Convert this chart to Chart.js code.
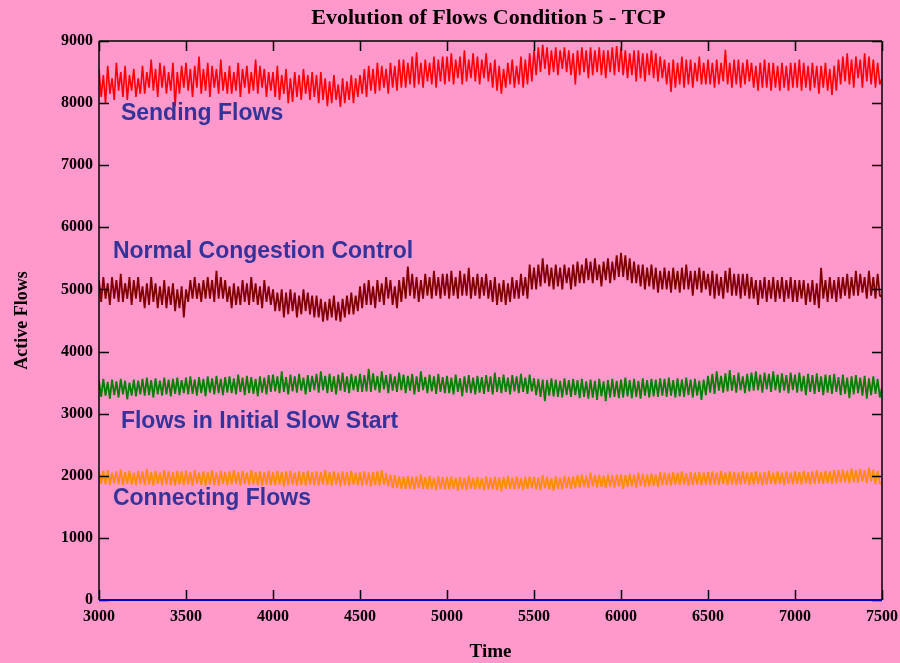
<!DOCTYPE html>
<html>
<head>
<meta charset="utf-8">
<script src="https://cdn.jsdelivr.net/npm/chart.js@4"></script>
<style>
  html, body { margin: 0; padding: 0; background: #FF99CC; }
  #wrap { width: 900px; height: 663px; }
</style>
</head>
<body>
<div id="wrap"><canvas id="c" width="900" height="663"></canvas></div>
<script>
// ---- data (sampled every 12.5 time units, 3000..7500) ----
const timeStart = 3000;
const timeStep = 12.5;
const xTickValues = [3000, 3500, 4000, 4500, 5000, 5500, 6000, 6500, 7000, 7500];
const yTickValues = [0, 1000, 2000, 3000, 4000, 5000, 6000, 7000, 8000, 9000];

const sendingFlows = [
  8550, 8100, 8450, 8000, 8600, 8150, 8400, 8050, 8650, 8200, 8500, 8100, 8600, 8050, 8450, 8200, 8550, 8100, 8400, 8150,
  8600, 8150, 8500, 8250, 8700, 8200, 8550, 8100, 8650, 8250, 8600, 8150, 8500, 8200, 8650, 7950, 8500, 8150, 8600, 8250,
  8650, 8200, 8550, 8100, 8600, 8250, 8750, 8150, 8550, 8200, 8650, 8100, 8600, 8250, 8550, 8150, 8700, 8200, 8500, 8150,
  8600, 8150, 8500, 8200, 8650, 8100, 8550, 8250, 8600, 8150, 8500, 8200, 8700, 8150, 8600, 8250, 8550, 8100, 8500, 8200,
  8500, 8100, 8600, 8050, 8450, 8150, 8550, 8000, 8400, 8020, 8500, 8100, 8450, 8050, 8550, 8150, 8450, 8050, 8500, 8100,
  8450, 8000, 8500, 8050, 8400, 7950, 8350, 8000, 8450, 8050, 8300, 7940, 8400, 8000, 8350, 8050, 8450, 8000, 8400, 8100,
  8450, 8150, 8550, 8100, 8600, 8200, 8550, 8150, 8650, 8200, 8600, 8250, 8550, 8150, 8650, 8250, 8600, 8200, 8700, 8250,
  8700, 8250, 8650, 8300, 8750, 8250, 8820, 8300, 8650, 8250, 8700, 8350, 8650, 8300, 8750, 8250, 8700, 8350, 8750, 8300,
  8750, 8350, 8800, 8300, 8700, 8400, 8750, 8300, 8850, 8350, 8700, 8400, 8800, 8350, 8750, 8300, 8700, 8400, 8800, 8350,
  8650, 8250, 8700, 8200, 8600, 8150, 8550, 8250, 8650, 8300, 8700, 8250, 8600, 8300, 8750, 8250, 8700, 8300, 8800, 8350,
  8850, 8450, 8900, 8500, 8940, 8550, 8900, 8450, 8850, 8500, 8900, 8450, 8850, 8550, 8900, 8500, 8850, 8450, 8800, 8300,
  8850, 8450, 8900, 8500, 8850, 8400, 8900, 8450, 8850, 8500, 8900, 8450, 8850, 8400, 8850, 8500, 8900, 8450, 8920, 8500,
  8900, 8450, 8850, 8400, 8800, 8450, 8850, 8350, 8850, 8400, 8800, 8350, 8800, 8450, 8850, 8400, 8800, 8350, 8750, 8400,
  8700, 8300, 8650, 8180, 8700, 8250, 8650, 8300, 8750, 8250, 8700, 8300, 8700, 8250, 8650, 8350, 8750, 8300, 8650, 8300,
  8700, 8300, 8650, 8250, 8700, 8300, 8650, 8350, 8860, 8300, 8650, 8250, 8700, 8300, 8700, 8250, 8650, 8300, 8700, 8350,
  8650, 8250, 8600, 8200, 8650, 8250, 8700, 8250, 8650, 8200, 8650, 8250, 8600, 8200, 8650, 8250, 8600, 8200, 8650, 8250,
  8650, 8250, 8700, 8200, 8650, 8250, 8600, 8200, 8650, 8250, 8600, 8150, 8600, 8250, 8650, 8200, 8550, 8130, 8600, 8200,
  8700, 8300, 8750, 8350, 8800, 8300, 8700, 8250, 8750, 8400, 8700, 8250, 8800, 8350, 8750, 8300, 8700, 8250, 8650, 8300, 8400
];

const normalCongestion = [
  5150, 4800, 5200, 4850, 5100, 4750, 5200, 4850, 5150, 4800, 5250, 4800, 5100, 4850, 5200, 4750, 5150, 4850, 5200, 4800,
  5050, 4700, 5100, 4750, 5200, 4800, 5100, 4700, 5050, 4750, 5150, 4700, 5050, 4750, 5100, 4650, 5000, 4700, 5050, 4550,
  5000, 4800, 5150, 4850, 5200, 4850, 5100, 4800, 5150, 4850, 5200, 4850, 5150, 4800, 5300, 4850, 5200, 4850, 5150, 4800,
  5050, 4700, 5100, 4750, 5050, 4750, 5150, 4800, 5100, 4750, 5200, 4800, 5100, 4750, 5050, 4700, 5150, 4800, 5050, 4750,
  5000, 4650, 4950, 4650, 5000, 4550, 4950, 4600, 5000, 4650, 4950, 4550, 4900, 4600, 5000, 4650, 4950, 4600, 4900, 4550,
  4900, 4550, 4850, 4480, 4800, 4500, 4850, 4550, 4900, 4500, 4800, 4480, 4850, 4550, 4900, 4600, 4950, 4600, 4900, 4650,
  5050, 4700, 5100, 4750, 5150, 4750, 5050, 4700, 5150, 4800, 5100, 4750, 5200, 4850, 5150, 4750, 5050, 4700, 5150, 4800,
  5200, 4850, 5370, 4900, 5250, 4850, 5200, 4800, 5150, 4850, 5250, 4900, 5200, 4850, 5300, 4900, 5200, 4850, 5250, 4900,
  5250, 4850, 5300, 4900, 5200, 4850, 5300, 4900, 5250, 4900, 5350, 4850, 5200, 4900, 5250, 4850, 5200, 4900, 5250, 4850,
  5150, 4800, 5200, 4750, 5100, 4800, 5150, 4750, 5100, 4800, 5200, 4850, 5150, 4850, 5250, 4900, 5200, 4850, 5400, 5000,
  5350, 5000, 5400, 5050, 5500, 5100, 5400, 5050, 5350, 5000, 5400, 5050, 5350, 5000, 5400, 5100, 5350, 5000, 5400, 5050,
  5450, 5100, 5400, 5100, 5500, 5150, 5450, 5100, 5500, 5150, 5400, 5050, 5450, 5150, 5500, 5100, 5450, 5150, 5550, 5200,
  5590, 5200, 5550, 5150, 5500, 5100, 5450, 5100, 5400, 5050, 5400, 5000, 5350, 5050, 5400, 5000, 5350, 4950, 5300, 5000,
  5350, 5000, 5300, 4950, 5350, 5000, 5300, 4950, 5350, 5000, 5400, 5000, 5300, 4900, 5300, 5000, 5350, 4950, 5300, 5000,
  5250, 4900, 5300, 4850, 5250, 4900, 5200, 4850, 5300, 4950, 5350, 4900, 5250, 4900, 5250, 4850, 5250, 4900, 5250, 4850,
  5200, 4850, 5150, 4750, 5150, 4850, 5200, 4800, 5150, 4850, 5200, 4800, 5150, 4850, 5200, 4800, 5150, 4850, 5200, 4800,
  5150, 4800, 5150, 4850, 5150, 4750, 5100, 4800, 5150, 4750, 5100, 4700, 5350, 4850, 5150, 4800, 5200, 4850, 5150, 4800,
  5200, 4850, 5200, 4900, 5250, 4850, 5200, 4900, 5300, 4900, 5250, 4950, 5200, 4850, 5300, 4900, 5200, 4850, 5250, 4900, 4880
];

const initialSlowStart = [
  3530, 3270, 3560, 3290, 3510, 3240, 3550, 3300, 3520, 3260, 3560, 3310, 3530, 3230, 3500, 3290, 3550, 3280, 3530, 3310,
  3560, 3290, 3580, 3300, 3540, 3260, 3570, 3310, 3530, 3290, 3580, 3310, 3550, 3280, 3560, 3320, 3580, 3300, 3540, 3330,
  3580, 3310, 3600, 3320, 3550, 3290, 3590, 3330, 3560, 3280, 3600, 3340, 3570, 3310, 3610, 3330, 3560, 3300, 3590, 3340,
  3600, 3330, 3570, 3310, 3630, 3350, 3580, 3300, 3610, 3330, 3590, 3320, 3560, 3280, 3600, 3340, 3580, 3310, 3620, 3350,
  3630, 3360, 3600, 3330, 3680, 3350, 3590, 3310, 3630, 3360, 3600, 3340, 3640, 3370, 3580, 3310, 3620, 3350, 3610, 3380,
  3640, 3340, 3680, 3380, 3610, 3330, 3640, 3350, 3600, 3310, 3630, 3370, 3660, 3350, 3600, 3330, 3640, 3380, 3610, 3350,
  3640, 3350, 3620, 3360, 3720, 3350, 3650, 3380, 3610, 3340, 3680, 3390, 3620, 3330, 3640, 3370, 3600, 3350, 3660, 3380,
  3630, 3330, 3610, 3370, 3640, 3310, 3600, 3350, 3680, 3380, 3590, 3330, 3630, 3360, 3600, 3320, 3640, 3350, 3590, 3330,
  3610, 3330, 3580, 3310, 3630, 3350, 3570, 3280, 3600, 3340, 3620, 3330, 3580, 3310, 3610, 3340, 3590, 3320, 3620, 3350,
  3600, 3310, 3660, 3350, 3590, 3330, 3630, 3350, 3580, 3310, 3620, 3360, 3600, 3330, 3640, 3350, 3580, 3320, 3630, 3360,
  3570, 3300, 3560, 3270, 3550, 3200, 3540, 3290, 3570, 3280, 3550, 3270, 3530, 3260, 3570, 3300, 3540, 3270, 3560, 3300,
  3540, 3250, 3560, 3270, 3520, 3240, 3550, 3260, 3530, 3220, 3560, 3280, 3520, 3200, 3540, 3260, 3560, 3270, 3530, 3250,
  3550, 3260, 3580, 3280, 3540, 3250, 3560, 3270, 3530, 3240, 3570, 3290, 3540, 3260, 3560, 3280, 3550, 3270, 3570, 3290,
  3560, 3270, 3580, 3290, 3540, 3260, 3570, 3280, 3550, 3270, 3580, 3300, 3550, 3260, 3560, 3290, 3530, 3220, 3550, 3300,
  3610, 3340, 3640, 3320, 3680, 3370, 3610, 3340, 3650, 3360, 3700, 3370, 3620, 3340, 3660, 3380, 3600, 3330, 3640, 3360,
  3660, 3370, 3680, 3380, 3630, 3340, 3660, 3390, 3640, 3350, 3680, 3380, 3630, 3340, 3650, 3370, 3620, 3330, 3660, 3380,
  3630, 3340, 3660, 3360, 3610, 3300, 3640, 3350, 3620, 3320, 3650, 3350, 3600, 3300, 3630, 3340, 3620, 3320, 3640, 3350,
  3590, 3300, 3630, 3320, 3580, 3250, 3600, 3310, 3620, 3330, 3580, 3290, 3610, 3240, 3570, 3300, 3600, 3320, 3560, 3260, 3420
];

const connectingFlows = [
  2060, 1870, 2080, 1860, 2090, 1850, 2050, 1880, 2070, 1860, 2100, 1850, 2060, 1870, 2080, 1860, 2050, 1850, 2080, 1870,
  2070, 1850, 2110, 1860, 2060, 1840, 2080, 1870, 2050, 1850, 2090, 1860, 2070, 1850, 2060, 1840, 2080, 1860, 2070, 1850,
  2080, 1860, 2060, 1840, 2090, 1870, 2050, 1850, 2070, 1840, 2060, 1860, 2090, 1850, 2050, 1840, 2080, 1870, 2060, 1850,
  2070, 1860, 2090, 1870, 2060, 1840, 2080, 1870, 2050, 1850, 2090, 1860, 2060, 1850, 2070, 1840, 2060, 1860, 2080, 1850,
  2060, 1850, 2080, 1860, 2060, 1830, 2070, 1850, 2080, 1860, 2050, 1840, 2070, 1850, 2060, 1840, 2080, 1860, 2060, 1850,
  2070, 1840, 2060, 1860, 2090, 1850, 2060, 1840, 2070, 1860, 2050, 1830, 2070, 1850, 2060, 1840, 2080, 1860, 2050, 1850,
  2060, 1840, 2070, 1850, 2050, 1830, 2060, 1850, 2070, 1840, 2090, 1860, 2040, 1830, 2020, 1800, 2010, 1800, 1990, 1790,
  1990, 1790, 2000, 1790, 1980, 1780, 1990, 1800, 2020, 1790, 1980, 1780, 2000, 1790, 1970, 1770, 1990, 1790, 1980, 1780,
  1980, 1780, 1990, 1790, 1970, 1760, 1980, 1780, 1970, 1770, 2000, 1790, 1970, 1780, 1980, 1790, 1960, 1770, 1990, 1780,
  1970, 1780, 1980, 1770, 1970, 1750, 1980, 1790, 2000, 1790, 1970, 1780, 1990, 1790, 1960, 1770, 1980, 1790, 1990, 1800,
  1980, 1780, 1970, 1770, 2010, 1800, 1980, 1780, 1960, 1760, 1990, 1790, 1970, 1780, 2000, 1800, 1980, 1790, 1990, 1800,
  2010, 1810, 2020, 1820, 2000, 1800, 2050, 1830, 2010, 1810, 2020, 1820, 2000, 1800, 2020, 1820, 2010, 1810, 2020, 1830,
  2020, 1790, 2010, 1820, 2030, 1830, 2020, 1810, 2050, 1840, 2030, 1820, 2020, 1830, 2040, 1840, 2020, 1820, 2060, 1850,
  2050, 1850, 2040, 1840, 2060, 1860, 2050, 1850, 2070, 1860, 2040, 1840, 2060, 1850, 2050, 1860, 2060, 1850, 2050, 1860,
  2060, 1850, 2070, 1860, 2050, 1850, 2080, 1870, 2050, 1850, 2070, 1860, 2060, 1850, 2050, 1860, 2070, 1870, 2050, 1850,
  2060, 1860, 2070, 1870, 2050, 1850, 2060, 1860, 2080, 1870, 2050, 1860, 2070, 1870, 2050, 1850, 2070, 1870, 2050, 1860,
  2070, 1870, 2060, 1860, 2080, 1880, 2060, 1860, 2070, 1870, 2090, 1880, 2060, 1870, 2080, 1880, 2070, 1870, 2090, 1880,
  2090, 1890, 2100, 1900, 2080, 1880, 2120, 1900, 2090, 1890, 2110, 1910, 2090, 1880, 2130, 1910, 2100, 1860, 2080, 1870, 1890
];

const titleText = 'Evolution of Flows Condition 5 - TCP';
const seriesLabels = ['Sending Flows', 'Normal Congestion Control', 'Flows in Initial Slow Start', 'Connecting Flows'];
// text labels anchored in data coordinates (time, flows)
const annotations = [
  { text: 'Sending Flows', x: 3126, y: 7730 },
  { text: 'Normal Congestion Control', x: 3080, y: 5507 },
  { text: 'Flows in Initial Slow Start', x: 3126, y: 2770 },
  { text: 'Connecting Flows', x: 3080, y: 1530 }
];

const times = sendingFlows.map((_, i) => timeStart + i * timeStep);
const toXY = arr => arr.map((v, i) => ({ x: times[i], y: v }));

const serif = '"Liberation Serif", "Times New Roman", serif';
const sans = '"Liberation Sans", Arial, sans-serif';

const framePlugin = {
  id: 'frame',
  beforeDraw(chart) {
    const ctx = chart.ctx;
    ctx.save();
    ctx.fillStyle = '#FF99CC';
    ctx.fillRect(0, 0, chart.width, chart.height);
    ctx.restore();
  },
  afterDatasetsDraw(chart) {
    const { ctx, chartArea: a, scales } = chart;
    const xs = scales.x, ys = scales.y;
    ctx.save();
    // title centred over plot area
    ctx.fillStyle = '#000';
    ctx.font = 'bold 22px ' + serif;
    ctx.textAlign = 'center';
    ctx.textBaseline = 'middle';
    ctx.fillText(titleText, (a.left + a.right) / 2 - 2, 18);

    ctx.strokeStyle = '#000';
    ctx.lineWidth = 1.5;
    ctx.beginPath();
    ctx.moveTo(a.left, a.top); ctx.lineTo(a.right, a.top);
    ctx.moveTo(a.right, a.top); ctx.lineTo(a.right, a.bottom);
    ctx.moveTo(a.left, a.top); ctx.lineTo(a.left, a.bottom);
    xTickValues.forEach(v => {
      const px = Math.round(xs.getPixelForValue(v)) + 0.5;
      ctx.moveTo(px, a.bottom); ctx.lineTo(px, a.bottom - 10);
      ctx.moveTo(px, a.top); ctx.lineTo(px, a.top + 10);
    });
    yTickValues.forEach(v => {
      const py = Math.round(ys.getPixelForValue(v)) + 0.5;
      ctx.moveTo(a.left, py); ctx.lineTo(a.left + 10, py);
      ctx.moveTo(a.right, py); ctx.lineTo(a.right - 10, py);
    });
    ctx.stroke();
    // blue base line
    ctx.strokeStyle = '#0000BB';
    ctx.lineWidth = 2;
    ctx.beginPath();
    ctx.moveTo(a.left, a.bottom); ctx.lineTo(a.right, a.bottom);
    ctx.stroke();
    // annotations
    ctx.fillStyle = '#333399';
    ctx.font = 'bold 23px ' + sans;
    ctx.textBaseline = 'alphabetic';
    ctx.textAlign = 'left';
    annotations.forEach(an => {
      ctx.fillText(an.text, xs.getPixelForValue(an.x), ys.getPixelForValue(an.y));
    });
    ctx.restore();
  }
};

const plainTick = v => String(v);

new Chart(document.getElementById('c'), {
  type: 'line',
  data: {
    datasets: [
      { label: seriesLabels[0], data: toXY(sendingFlows), borderColor: '#FF0000', borderWidth: 1.6, borderJoinStyle: 'bevel' },
      { label: seriesLabels[1], data: toXY(normalCongestion), borderColor: '#800000', borderWidth: 1.8, borderJoinStyle: 'bevel' },
      { label: seriesLabels[2], data: toXY(initialSlowStart), borderColor: '#008000', borderWidth: 1.8, borderJoinStyle: 'bevel' },
      { label: seriesLabels[3], data: toXY(connectingFlows), borderColor: '#FF8C00', borderWidth: 1.8, borderJoinStyle: 'bevel' }
    ]
  },
  options: {
    responsive: false,
    animation: false,
    devicePixelRatio: 1,
    elements: { point: { radius: 0 }, line: { tension: 0 } },
    layout: { padding: { left: 0, right: 0, top: 41, bottom: 0 } },
    plugins: {
      legend: { display: false },
      tooltip: { enabled: false },
      title: { display: false }
    },
    scales: {
      x: {
        type: 'linear',
        min: 3000, max: 7500,
        afterBuildTicks: s => { s.ticks = xTickValues.map(v => ({ value: v })); },
        afterFit: s => { s.height = 63; s.paddingRight = 18; s.paddingLeft = 0; },
        grid: { display: false, drawTicks: false },
        border: { display: false },
        ticks: { callback: plainTick, color: '#000', font: { family: serif, size: 16, weight: 'bold' }, padding: 7, maxRotation: 0, autoSkip: false },
        title: { display: true, text: 'Time', color: '#000', font: { family: serif, size: 19, weight: 'bold' }, padding: { top: 0, bottom: 0 } }
      },
      y: {
        type: 'linear',
        min: 0, max: 9000,
        afterBuildTicks: s => { s.ticks = yTickValues.map(v => ({ value: v })); },
        afterFit: s => { s.width = 99; },
        grid: { display: false, drawTicks: false },
        border: { display: false },
        ticks: { callback: plainTick, color: '#000', font: { family: serif, size: 16, weight: 'bold' }, padding: 6, autoSkip: false },
        title: { display: true, text: 'Active Flows', color: '#000', font: { family: serif, size: 18, weight: 'bold' }, padding: { top: 12, bottom: 0 } }
      }
    }
  },
  plugins: [framePlugin]
});
</script>
</body>
</html>
